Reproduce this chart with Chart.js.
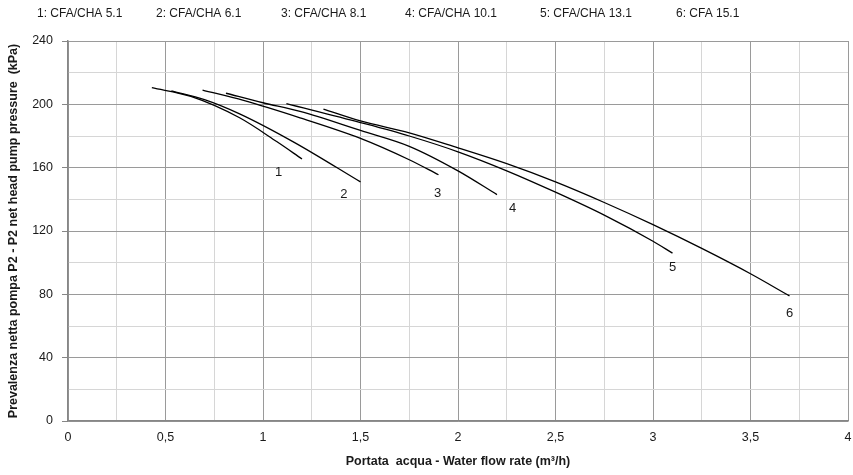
<!DOCTYPE html>
<html>
<head>
<meta charset="utf-8">
<script src="https://cdn.jsdelivr.net/npm/chart.js@4.4.0/dist/chart.umd.min.js"></script>
<style>
  html, body { margin: 0; padding: 0; background: #fff; }
  #wrap { width: 853px; height: 475px; }
</style>
</head>
<body>
<div id="wrap"><canvas id="pumpChart" width="853" height="475"></canvas></div>
<script>
// nomi delle curve (legenda in alto)
const curveNames = ['1: CFA/CHA 5.1', '2: CFA/CHA 6.1', '3: CFA/CHA 8.1', '4: CFA/CHA 10.1', '5: CFA/CHA 13.1', '6: CFA 15.1'];
const curveTags = ['1', '2', '3', '4', '5', '6'];

// portata (m3/h) e prevalenza (kPa)
const flow1 = [0.43, 0.63, 0.88, 1.07, 1.2];
const head1 = [210.5, 205, 191.5, 176.5, 165.5];
const flow2 = [0.53, 0.7, 0.88, 1.16, 1.5];
const head2 = [208.5, 203, 194, 176, 151];
const flow3 = [0.69, 0.9, 1.19, 1.5, 1.75, 1.9];
const head3 = [209, 202.5, 191.5, 178.5, 165, 155.5];
const flow4 = [0.81, 1.0, 1.19, 1.5, 1.75, 2.0, 2.2];
const head4 = [207, 201, 195.5, 183.5, 173.5, 158, 143];
const flow5 = [1.12, 1.5, 1.75, 2.0, 2.25, 2.5, 2.75, 3.0, 3.1];
const head5 = [200.5, 188.5, 180, 170, 158, 144.5, 130, 113.5, 106];
const flow6 = [1.31, 1.5, 1.75, 2.0, 2.25, 2.5, 2.75, 3.0, 3.25, 3.5, 3.7];
const head6 = [197, 189.5, 182, 172.5, 162.5, 151, 138, 124, 109, 93, 79];

// posizione delle etichette numeriche delle curve (in unità del grafico)
const tagFlow = [1.08, 1.415, 1.895, 2.28, 3.1, 3.7];
const tagHead = [157, 143, 144, 134.5, 97, 68];

// tick degli assi
const xMin = 0, xMax = 4, xStep = 0.25, xLabelStep = 0.5;
const yMin = 0, yMax = 240, yStep = 20, yLabelStep = 40;

const flows = [flow1, flow2, flow3, flow4, flow5, flow6];
const heads = [head1, head2, head3, head4, head5, head6];

const FONT = '"Liberation Sans", Arial, sans-serif';

function toPoints(xs, ys) {
    return xs.map((x, i) => ({ x: x, y: ys[i] }));
}

const isMajor = (v, step) => Math.abs(v / step - Math.round(v / step)) < 1e-6;

// legenda testuale in alto + numeri vicino alle curve
const textPlugin = {
    id: 'curveText',
    afterDatasetsDraw(chart) {
        const ctx = chart.ctx;
        const xs = chart.scales.x, ys = chart.scales.y;
        ctx.save();
        ctx.fillStyle = '#1a1a1a';
        ctx.font = '13px ' + FONT;
        ctx.textAlign = 'center';
        ctx.textBaseline = 'middle';
        curveTags.forEach((t, i) => {
            ctx.fillText(t, xs.getPixelForValue(tagFlow[i]), ys.getPixelForValue(tagHead[i]));
        });
        // legenda
        const legendLeft = [37, 156, 281, 405, 540, 676];
        ctx.font = '12px ' + FONT;
        ctx.textAlign = 'left';
        curveNames.forEach((n, i) => ctx.fillText(n, legendLeft[i], 14));
        ctx.restore();
    }
};

function initPumpChart() {
    const el = document.getElementById('pumpChart');
    if (!el || typeof Chart === 'undefined') return;
    const ctx = el.getContext('2d');

    new Chart(ctx, {
        type: 'scatter',
        data: {
            datasets: flows.map((f, i) => ({
                label: curveNames[i],
                data: toPoints(f, heads[i]),
                showLine: true,
                borderColor: '#000',
                borderWidth: 1.3,
                pointRadius: 0,
                cubicInterpolationMode: 'monotone',
                fill: false
            }))
        },
        options: {
            responsive: false,
            animation: false,
            layout: { padding: { top: 41, right: 0, left: 0, bottom: 0 } },
            plugins: {
                legend: { display: false },
                tooltip: { enabled: false }
            },
            scales: {
                x: {
                    type: 'linear',
                    min: xMin,
                    max: xMax,
                    afterFit: (s) => { s.height = 54; s.paddingRight = 5; s.paddingLeft = 0; },
                    border: { color: '#868686', width: 1.5 },
                    grid: {
                        color: (c) => isMajor(c.tick.value, xLabelStep) ? '#9a9a9a' : '#d6d6d6',
                        tickLength: 4,
                        tickColor: 'rgba(0,0,0,0)'
                    },
                    ticks: {
                        stepSize: xStep,
                        autoSkip: false,
                        maxRotation: 0,
                        padding: 5,
                        color: '#1a1a1a',
                        font: { family: FONT, size: 12.5 },
                        callback: (v) => isMajor(v, xLabelStep) ? String(v).replace('.', ',') : ''
                    },
                    title: {
                        display: true,
                        text: 'Portata  acqua - Water flow rate (m³/h)',
                        color: '#1a1a1a',
                        font: { family: FONT, size: 12.5, weight: 'bold' },
                        padding: { top: 0, bottom: 6 }
                    }
                },
                y: {
                    type: 'linear',
                    min: yMin,
                    max: yMax,
                    afterFit: (s) => { s.width = 68; },
                    border: { color: '#868686', width: 1.5 },
                    grid: {
                        color: (c) => isMajor(c.tick.value, yLabelStep) ? '#9a9a9a' : '#d6d6d6',
                        tickLength: 6,
                        tickColor: (c) => isMajor(c.tick.value, yLabelStep) ? '#868686' : 'rgba(0,0,0,0)'
                    },
                    ticks: {
                        stepSize: yStep,
                        autoSkip: false,
                        padding: 9,
                        color: '#1a1a1a',
                        font: { family: FONT, size: 12.5 },
                        callback: (v) => isMajor(v, yLabelStep) ? String(v) : ''
                    },
                    title: {
                        display: true,
                        text: 'Prevalenza netta pompa P2 - P2 net head pump pressure  (kPa)',
                        color: '#1a1a1a',
                        font: { family: FONT, size: 12.5, weight: 'bold' },
                        padding: { top: 6, bottom: 0 }
                    }
                }
            }
        },
        plugins: [textPlugin]
    });
}

document.addEventListener('DOMContentLoaded', () => {
    initPumpChart();
});
</script>
</body>
</html>
